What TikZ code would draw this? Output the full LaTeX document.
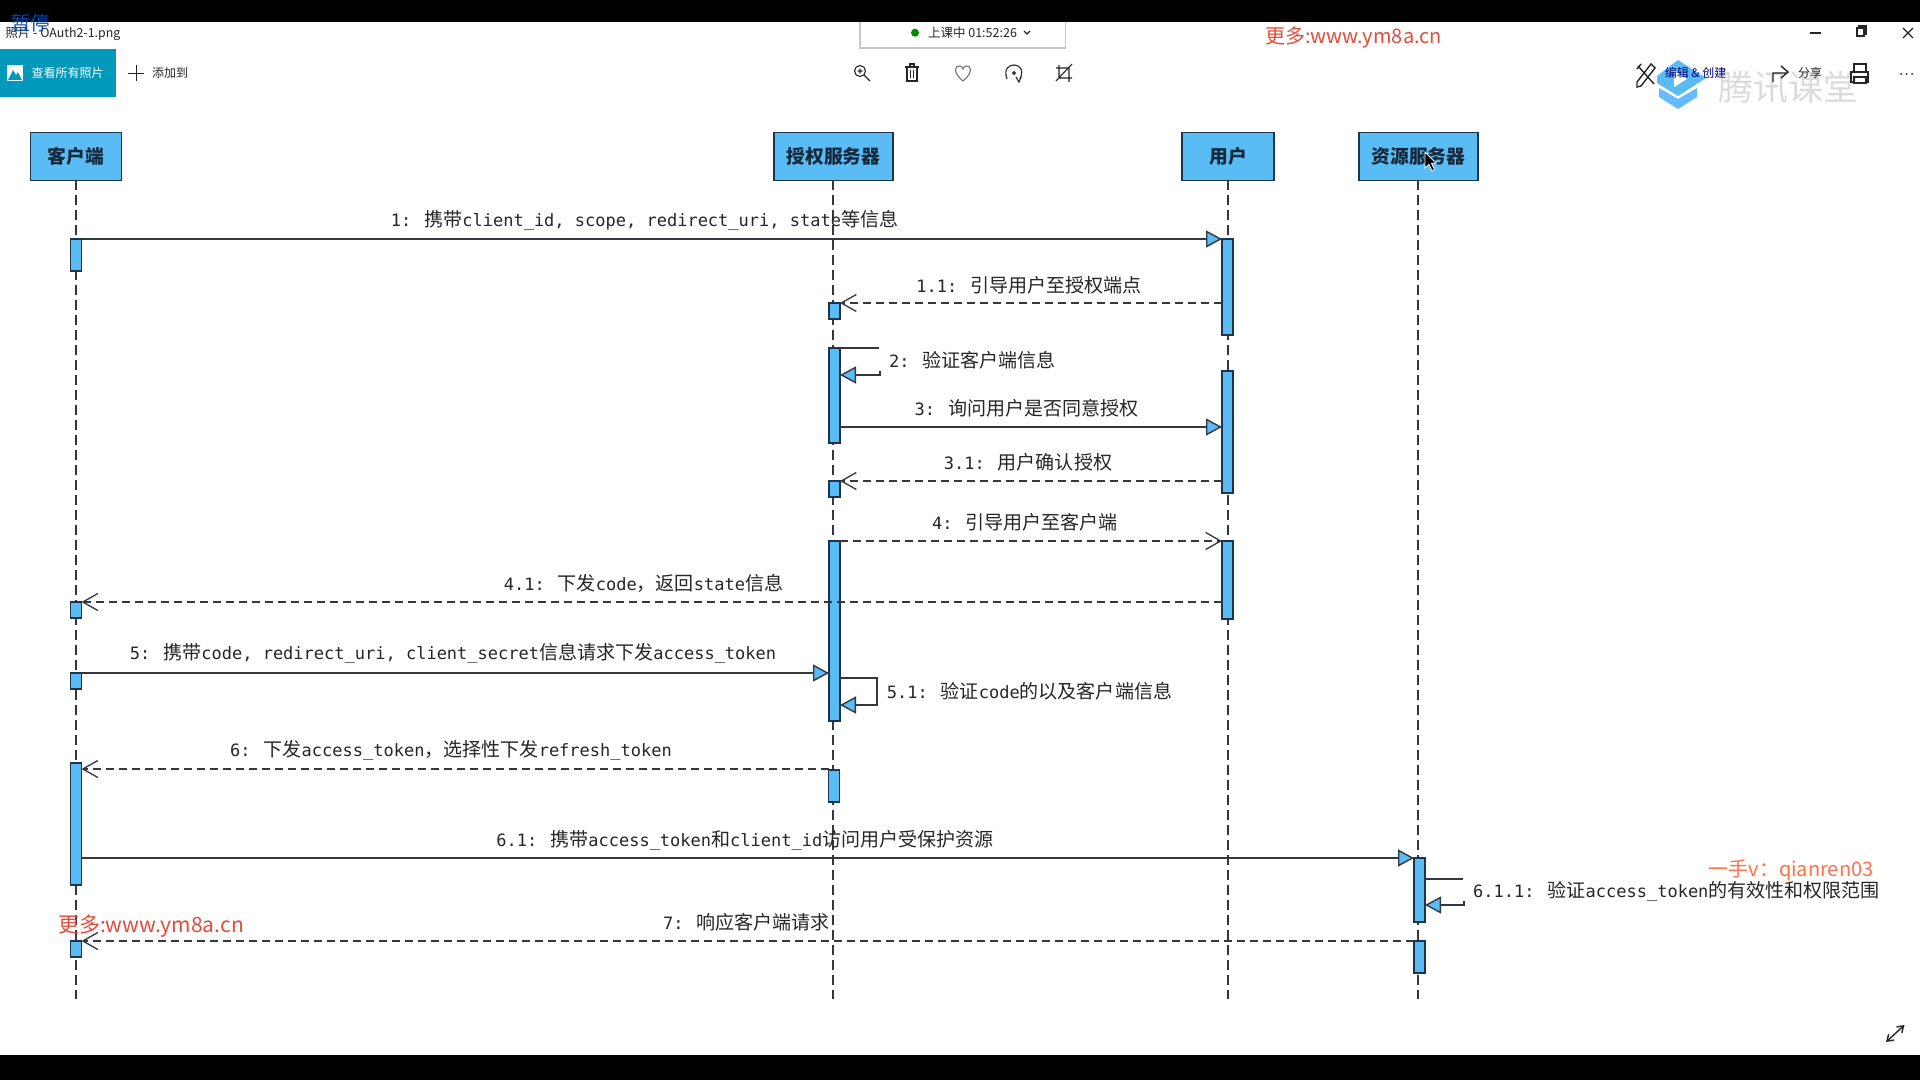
\documentclass[tikz,border=0pt]{standalone}
\usepackage{fontspec}
\setmonofont{DejaVu Sans Mono}
\newfontfamily\cjk{Noto Sans CJK SC}
\newfontfamily\cjkmsg[Scale=1.12]{Noto Sans CJK SC}
\newcommand{\zh}[1]{{\cjkmsg #1}}
\newcommand{\fs}[1]{\fontsize{#1}{#1}\selectfont}
\newcommand{\nr}[1]{#1:\kern13pt}
\usetikzlibrary{arrows.meta, positioning}
\definecolor{myb}{RGB}{90, 188, 244}
\definecolor{myline}{RGB}{52, 56, 62}
\definecolor{myedge}{RGB}{28, 52, 76}
\definecolor{myred}{RGB}{226, 76, 60}
\definecolor{myteal}{RGB}{0, 153, 188}
\tikzset{
    actor/.style={draw=myedge, fill=myb, line width=1.6pt, minimum height=48pt, inner sep=0pt, text=myedge!80!black, font=\cjk\bfseries\fs{18.8}},
    bar/.style={draw=myedge, fill=myb, line width=1.4pt, minimum width=11pt, inner sep=0pt, outer sep=0pt},
    life/.style={draw=myline, line width=1.6pt, dash pattern=on 10pt off 5pt},
    msg/.style={draw=myline, line width=1.7pt, -{Triangle[length=16pt, width=17pt, fill=myb, line width=1.4pt]}},
    stub/.style={draw=myline, line width=1.5pt},
    reply/.style={draw=myline, line width=1.6pt, dash pattern=on 8pt off 5pt, -{Straight Barb[length=15pt, width=17pt, line width=1.3pt]}},
    msgtext/.style={font=\ttfamily\fs{17}, text=black!85, inner sep=0pt},
    uitext/.style={font=\cjk\fs{12}, text=black!85, inner sep=0pt},
    icon/.style={draw=black!85, line width=1.1pt},
}
\begin{document}
\begin{tikzpicture}[x=1pt, y=-1pt]
    \useasboundingbox (0,0) rectangle (1920,1080);
    \fill[white] (0,0) rectangle (1920,1080);
    % lifelines and heads
    \node[actor, minimum width=91pt] (client) at (76,156.5) {客户端};
    \node[actor, minimum width=119pt] (auth) at (833.5,156.5) {授权服务器};
    \node[actor, minimum width=92pt] (user) at (1228,156.5) {用户};
    \node[actor, minimum width=119pt] (res) at (1418.5,156.5) {资源服务器};
    \coordinate (lifeend) at (0,999);
    \coordinate (c0) at (76,180);
    \coordinate (a0) at (833,180);
    \coordinate (u0) at (1228,180);
    \coordinate (r0) at (1418,180);
    \foreach \n in {c0, a0, u0, r0}
        \draw[life] (\n) -- (\n |- lifeend);
    % activation bars
    \foreach \n/\x/\t/\b in {c1/76/239/271, c4/76/602/618, c5/76/673/689, c6/76/763/885, c7/76/941/957,
        a1/834.5/303/319, a2/834.5/348/443, a3/834.5/481/497, a4/834.5/541/721, a6/834/770/802,
        u1/1227.5/239/335, u2/1227.5/371/493, u3/1227.5/541/619,
        r1/1419.5/858/922, r2/1419.5/941/973}
        \node[bar, minimum height={(\b-\t)*1pt}] (\n) at (\x,{(\t+\b)/2}) {};
    % helper heights
    \coordinate (m3) at (0,427);
    \coordinate (m5) at (0,673);
    \coordinate (m6) at (0,769);
    \coordinate (s2a) at (879,348);
    \coordinate (s2b) at (880,371);
    \coordinate (s2c) at (880,375);
    \coordinate (s5a) at (877,678);
    \coordinate (s5b) at (877,705);
    \coordinate (s6a) at (1463,879);
    \coordinate (s6b) at (1464,901);
    \coordinate (s6c) at (1464,905);
    % messages
    \draw[msg] (c1.north east) -- (u1.north west);
    \draw[reply] (u1.west |- a1.north east) -- (a1.north east);
    \draw[stub] (a2.north east) -- (s2a);
    \draw[msg] (s2b) -- (s2c) -- (a2.east |- s2c);
    \draw[msg] (a2.east |- m3) -- (u2.west |- m3);
    \draw[reply] (u2.west |- a3.north east) -- (a3.north east);
    \draw[reply] (a4.north east) -- (u3.north west);
    \draw[reply] (u3.west |- c4.north east) -- (c4.north east);
    \draw[msg] (c5.east |- m5) -- (a4.west |- m5);
    \draw[msg] (a4.east |- s5a) -- (s5a) -- (s5b) -- (a4.east |- s5b);
    \draw[reply] (a6.west |- m6) -- (c6.east |- m6);
    \draw[msg] (c6.east |- r1.north) -- (r1.north west);
    \draw[stub] (r1.east |- s6a) -- (s6a);
    \draw[msg] (s6b) -- (s6c) -- (r1.east |- s6c);
    \draw[reply] (r2.north west) -- (c7.north east);
    % message texts
    \foreach \i/\x/\y/\label in {
        1/644.5/220.5/{\nr{1}\zh{携带}client\_id, scope, redirect\_uri, state\zh{等信息}},
        11/1029/285/{\nr{1.1}\zh{引导用户至授权端点}},
        2/972.5/360/{\nr{2}\zh{验证客户端信息}},
        3/1026.5/408/{\nr{3}\zh{询问用户是否同意授权}},
        31/1028/462/{\nr{3.1}\zh{用户确认授权}},
        4/1025/522.7/{\nr{4}\zh{引导用户至客户端}},
        41/643.5/583/{\nr{4.1}\zh{下发}code\zh{，返回}state\zh{信息}},
        5/453/653.7/{\nr{5}\zh{携带}code, redirect\_uri, client\_secret\zh{信息请求下发}access\_token},
        51/1029.5/691/{\nr{5.1}\zh{验证}code\zh{的以及客户端信息}},
        6/451/750.7/{\nr{6}\zh{下发}access\_token\zh{，选择性下发}refresh\_token},
        61/745/840/{\nr{6.1}\zh{携带}access\_token\zh{和}client\_id\zh{访问用户受保护资源}},
        611/1676.5/891/{\nr{6.1.1}\zh{验证}access\_token\zh{的有效性和权限范围}},
        7/746.5/922/{\nr{7}\zh{响应客户端请求}}}
    {
        \node[msgtext] (l\i) at (\x,\y) {\label};
    }
    % video frame
    \fill[black] (0,0) rectangle (1920,22);
    \fill[black] (0,1055) rectangle (1920,1080);
    % window bar, left
    \node[uitext, font=\cjk\fs{12.4}] (title) at (63,34) {照片 - OAuth2-1.png};
    \node[inner sep=0pt, font=\cjk\fs{19.5}, text=blue!60!cyan!70!black] (pause) at (30.5,23) {暂停};
    \fill[myteal] (0,49) rectangle (116,97);
    \fill[white] (7,65) rectangle (23,81);
    \fill[myteal] (8,80) -- (13,70) -- (16,75) -- (18,72) -- (22,80) -- cycle;
    \node[uitext, text=white] (viewall) at (67.5,73) {查看所有照片};
    \draw[icon, line width=0.8pt] (128,73) -- (144,73) (136,65) -- (136,81);
    \node[uitext] (addto) at (170,73) {添加到};
    % timer
    \draw[black!22, line width=1.5pt] (860,22) -- (860,48) -- (1065.5,48) -- (1065.5,22);
    \fill[green!55!black] (915,32.7) circle (4);
    \node[uitext, font=\cjk\fs{12.5}] (timer) at (972.5,32.7) {上课中 01:52:26};
    \draw[icon] (1024,31) -- (1027,34) -- (1030,31);
    % window bar, middle icons
    \draw[icon] (860,71) circle (5.5) (864,75) -- (870,81) (857.5,71) -- (862.5,71) (860,68.5) -- (860,73.5);
    \draw[icon] (907,67) rectangle (917,81) (905,67) -- (919,67) (910,67) -- (910,64) -- (914,64) -- (914,67) (910.5,70) -- (910.5,78) (913.5,70) -- (913.5,78);
    \draw[icon, draw=black!55] (963,81) .. controls (952,72) and (955,65) .. (960,66) .. controls (962,66.5) and (963,68) .. (963,69) .. controls (963,68) and (964,66.5) .. (966,66) .. controls (971,65) and (974,72) .. (963,81);
    \draw[icon] (1007,79) .. controls (1003,68) and (1010,65) .. (1014,65) .. controls (1018,65) and (1025,68) .. (1020,79);
    \draw[icon] (1014,73) circle (1.3) (1016,77) -- (1019,82) -- (1021,77);
    \draw[icon] (1059,65) -- (1059,78) -- (1072,78) (1056,68) -- (1069,68) -- (1069,82) (1056,81) -- (1072,64);
    % window bar, right
    \node[font=\cjk\fs{35}, text=black!14, inner sep=0pt] (brand) at (1788,87) {腾讯课堂};
    \fill[myb] (1678,60) -- (1706,78) -- (1678,96) -- (1657,83) -- (1657,76) -- cycle;
    \fill[white] (1674,71) -- (1687,79) -- (1674,87) -- cycle;
    \fill[blue!45!cyan!60!white] (1659,88) -- (1678,99) -- (1697,88) -- (1697,97) -- (1678,109) -- (1659,97) -- cycle;
    \draw[icon, line width=1.4pt] (1637,82) -- (1651,64) -- (1655,68) -- (1641,86) -- (1637,87) -- cycle (1638,66) -- (1654,84) (1637,69) -- (1641,64);
    \node[uitext, text=blue!50!black] (edit) at (1695.5,73) {编辑 \& 创建};
    \draw[icon, line width=1.4pt] (1773,82) -- (1773,73) -- (1786,73) (1781,66) -- (1788,72) -- (1781,78);
    \node[uitext] (share) at (1810,73) {分享};
    \draw[icon, line width=1.4pt] (1854,72) -- (1854,64) -- (1866,64) -- (1866,72) (1854,82) -- (1851,82) -- (1851,72) -- (1868,72) -- (1868,82) -- (1866,82) (1854,77) rectangle (1866,83);
    \fill[black!85] (1901,74) circle (1) (1906.5,74) circle (1) (1912,74) circle (1);
    \draw[icon] (1810,33) -- (1821,33);
    \draw[icon] (1857,36) rectangle (1864,28) (1859,28) -- (1859,26) -- (1866,26) -- (1866,34) -- (1864,34);
    \draw[icon] (1903,28) -- (1913,38) (1913,28) -- (1903,38);
    % marks over the frame
    \node[font=\cjk\fs{20}, text=myred, inner sep=0pt] (weba) at (1353.5,37.7) {更多:www.ym8a.cn};
    \node[font=\cjk\fs{21}, text=myred, inner sep=0pt] (webb) at (151,926) {更多:www.ym8a.cn};
    \node[font=\cjk\fs{20}, text=red!60!orange!70!white, inner sep=0pt] (vmark) at (1791,870) {一手v：qianren03};
    \draw[icon, line width=1.4pt, {Straight Barb[length=6pt, width=8pt]}-{Straight Barb[length=6pt, width=8pt]}] (1886,1042) -- (1904.5,1025);
    \draw[white, fill=black, line width=0.8pt] (1425,152) -- (1425,168) -- (1429,164.5) -- (1432,171) -- (1434.5,169.5) -- (1431.5,163.5) -- (1436,163) -- cycle;
\end{tikzpicture}
\end{document}
